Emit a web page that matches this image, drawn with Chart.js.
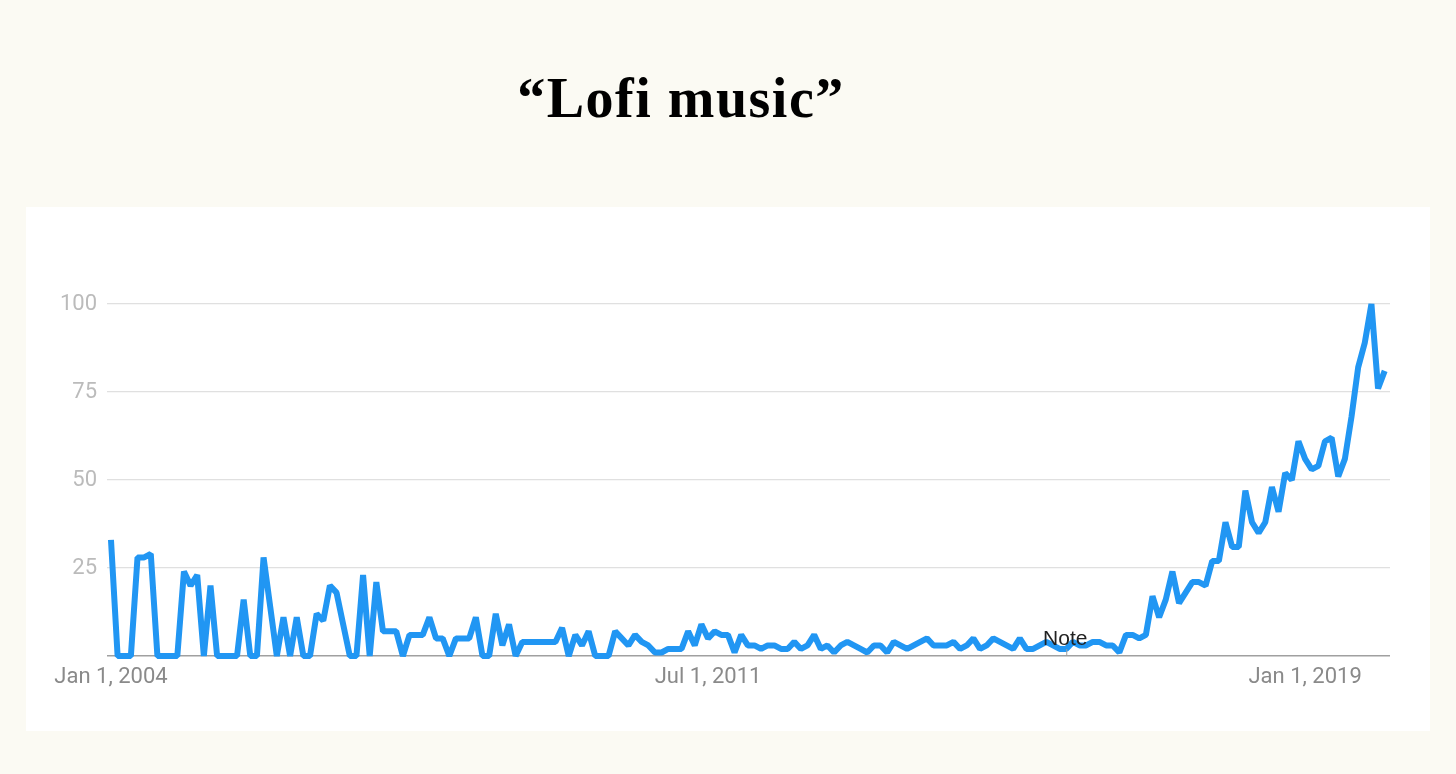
<!DOCTYPE html>
<html>
<head>
<meta charset="utf-8">
<script src="https://cdn.jsdelivr.net/npm/chart.js@4/dist/chart.umd.min.js"></script>
<style>
  html, body { margin: 0; padding: 0; }
  body { width: 1456px; height: 774px; background: #fbfaf3; position: relative; overflow: hidden; }
  #title {
    position: absolute; left: 481px; top: 63px; width: 400px; text-align: center;
    font-family: "Liberation Serif", "DejaVu Serif", serif; font-weight: bold; font-size: 56px;
    letter-spacing: 1.5px; color: #000; line-height: 70px;
  }
  #card { position: absolute; left: 26px; top: 207px; width: 1404px; height: 524px; background: #fff; }
</style>
</head>
<body>
<div id="title">“Lofi music”</div>
<div id="card"><canvas id="trend"></canvas></div>
<script>
// monthly search interest, Jan 2004 .. Jan 2020
const interest = [
  33, 0, 0, 0, 28, 28, 29, 0, 0, 0, 0, 24, 20, 23, 0, 20, 0, 0, 0, 0,
  16, 0, 0, 28, 14, 0, 11, 0, 11, 0,
  0, 12, 10, 20, 18, 9, 0, 0, 23, 0,
  21, 7, 7, 7, 0, 6, 6, 6, 11, 5,
  5, 0, 5, 5, 5, 11, 0, 0, 12, 3,
  9, 0, 4, 4, 4, 4, 4, 4, 8, 0,
  6, 3, 7, 0, 0, 0, 7, 5, 3, 6,
  4, 3, 1, 1, 2, 2, 2, 7, 3, 9,
  5, 7, 6, 6, 1, 6, 3, 3, 2, 3,
  3, 2, 2, 4, 2, 3, 6, 2, 3, 1,
  3, 4, 3, 2, 1, 3, 3, 1, 4, 3,
  2, 3, 4, 5, 3, 3, 3, 4, 2, 3,
  5, 2, 3, 5, 4, 3, 2, 5, 2, 2,
  3, 4, 3, 2, 2, 4, 3, 3, 4, 4,
  3, 3, 1, 6, 6, 5, 6, 17, 11, 16,
  24, 15, 18, 21, 21, 20, 27, 27, 38, 31,
  31, 47, 38, 35, 38, 48, 41, 52, 50, 61,
  56, 53, 54, 61, 62, 51, 56, 68, 82, 89,
  100, 76, 81
];

const monthNames = ['Jan','Feb','Mar','Apr','May','Jun','Jul','Aug','Sep','Oct','Nov','Dec'];
const months = interest.map((v, i) => monthNames[i % 12] + ' 1, ' + (2004 + Math.floor(i / 12)));

const xTickIndex = [0, 90, 180];
const xTickLabels = ['Jan 1, 2004', 'Jul 1, 2011', 'Jan 1, 2019'];
const yTicks = [0, 25, 50, 75, 100];

const noteIndex = 144;
const noteText = 'Note';

const notePlugin = {
  id: 'note',
  afterDatasetsDraw(chart) {
    const ctx = chart.ctx;
    const x = chart.scales.x.getPixelForValue(noteIndex);
    const y0 = chart.scales.y.getPixelForValue(0);
    ctx.save();
    ctx.strokeStyle = '#9e9e9e';
    ctx.lineWidth = 1;
    ctx.beginPath();
    ctx.moveTo(x + 0.5, y0);
    ctx.lineTo(x + 0.5, y0 - 7);
    ctx.stroke();
    ctx.fillStyle = '#222';
    ctx.font = '21px "Liberation Sans", Arial, sans-serif';
    ctx.textAlign = 'center';
    ctx.textBaseline = 'alphabetic';
    ctx.fillText(noteText, x - 1, y0 - 11);
    ctx.restore();
  }
};

new Chart(document.getElementById('trend'), {
  type: 'line',
  data: {
    datasets: [{
      label: 'Lofi music',
      data: interest.map((v, i) => ({ x: i, y: v })),
      borderColor: '#2196f3',
      borderWidth: 6,
      borderJoinStyle: 'bevel',
      pointRadius: 0,
      tension: 0,
      fill: false,
      clip: false
    }]
  },
  options: {
    responsive: true,
    maintainAspectRatio: false,
    animation: false,
    layout: { padding: { top: 97, right: 40, left: 0, bottom: 0 } },
    plugins: { legend: { display: false }, tooltip: { enabled: false } },
    scales: {
      x: {
        type: 'linear',
        min: -0.6,
        max: 192.8,
        afterBuildTicks: (s) => { s.ticks = xTickIndex.map(v => ({ value: v })); },
        afterFit: (s) => { s.height = 75; },
        grid: { display: false },
        border: { display: false },
        ticks: {
          autoSkip: false,
          maxRotation: 0,
          padding: 0,
          color: '#8a8a8a',
          font: { family: 'Roboto', size: 22 },
          callback: (v) => xTickLabels[xTickIndex.indexOf(v)]
        }
      },
      y: {
        min: 0,
        max: 100,
        afterBuildTicks: (s) => { s.ticks = yTicks.map(v => ({ value: v })); },
        afterFit: (s) => { s.width = 81; },
        border: { display: false },
        grid: {
          drawTicks: false,
          color: (c) => c.tick.value === 0 ? '#a0a0a0' : '#e0e0e0',
          lineWidth: (c) => c.tick.value === 0 ? 1.5 : 1.2
        },
        ticks: {
          padding: 10,
          color: '#bbbbbb',
          font: { family: 'Roboto', size: 22 },
          callback: (v) => v === 0 ? '' : v
        }
      }
    }
  },
  plugins: [notePlugin]
});
</script>
</body>
</html>
